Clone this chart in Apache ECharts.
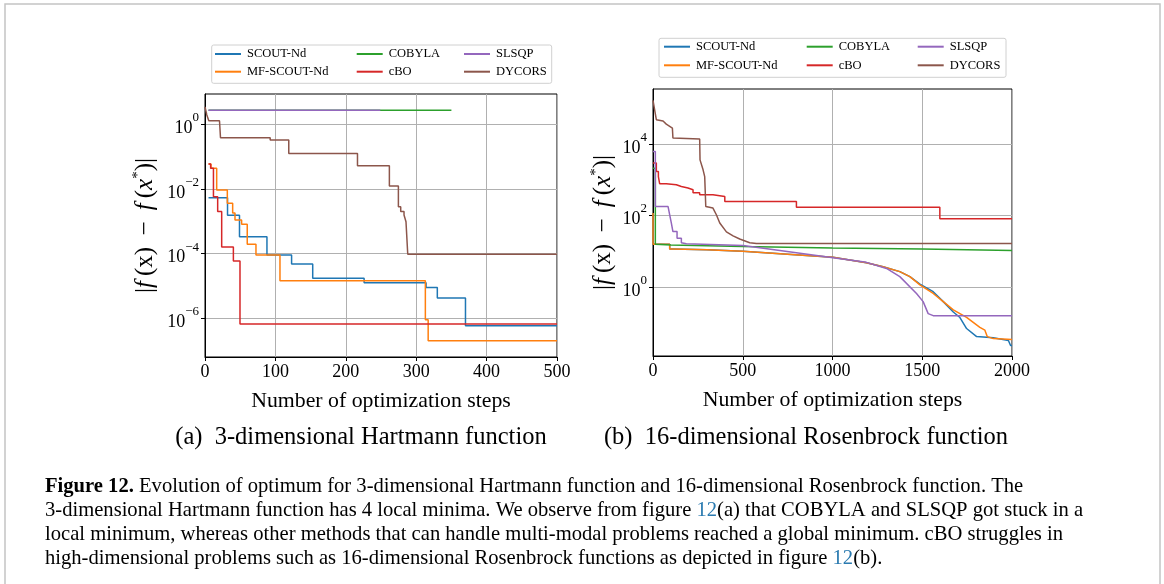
<!DOCTYPE html>
<html>
<head>
<meta charset="utf-8">
<script src="https://cdn.jsdelivr.net/npm/echarts@6/dist/echarts.min.js"></script>
<style>
  html, body { margin: 0; padding: 0; background: #ffffff; }
  #chart { width: 1164px; height: 584px; }
</style>
</head>
<body>
<div id="chart"></div>
<script>
// ---- methods and colours ----
const methods = ['SCOUT-Nd', 'MF-SCOUT-Nd', 'COBYLA', 'cBO', 'SLSQP', 'DYCORS'];
const colors = ['#1f77b4', '#ff7f0e', '#2ca02c', '#d62728', '#9467bd', '#8c564b'];

// ---- (a) 3-dimensional Hartmann: [step, |f(x) - f(x*)|], value held until next step ----
const hartScout = [[5, 5.4e-3], [32, 1.55e-3], [49, 3.3e-4], [88, 9.1e-5], [123, 4.8e-5], [153, 1.74e-5],
  [226, 1.26e-5], [314, 8.9e-6], [330, 4.2e-6], [370, 5.9e-7], [500, 5.9e-7]];
const hartMfScout = [[5, 5.9e-2], [8.5, 4.4e-2], [16.6, 9.3e-3], [31.7, 3.6e-3], [39.3, 1.8e-3], [42.6, 1.1e-3],
  [52, 8.1e-4], [60, 1.95e-4], [72.4, 9.1e-5], [106.5, 1.45e-5], [313, 8.9e-7], [317, 2.0e-7], [500, 2.0e-7]];
const hartCobyla = [[5, 2.76], [350, 2.76]];
const hartCbo = [[5, 5.9e-2], [8, 4.4e-2], [12, 5.8e-3], [18, 2.0e-3], [23.7, 1.6e-4], [40.3, 5.9e-5],
  [49.7, 6.6e-7], [500, 6.6e-7]];
const hartSlsqp = [[5, 2.76], [249, 2.76]];
const hartDycors = [[0, 3.5], [2.6, 1.95], [5.4, 1.29], [20.6, 1.2], [22, 0.385], [92.6, 0.327], [119, 0.126],
  [216.6, 0.052], [261.9, 0.0123], [274.7, 2.8e-3], [278, 2.0e-3], [282.7, 1.56e-3], [285.5, 9.7e-4],
  [288, 9.5e-5], [500, 9.5e-5]];

// ---- (b) 16-dimensional Rosenbrock: [step, |f(x) - f(x*)|] polyline vertices ----
const rosScout = [[0, 117], [0, 15.8], [93, 15.8], [93, 11.6], [112, 11.6], [300, 11.0], [500, 10.0], [750, 8.3],
  [1003, 6.8], [1189, 4.8], [1282, 3.7], [1375, 2.7], [1431, 1.95], [1487, 1.2], [1561, 0.74],
  [1617, 0.39], [1673, 0.20], [1710, 0.14], [1747, 0.069], [1803, 0.041], [1896, 0.038], [1980, 0.032],
  [1992, 0.023], [2000, 0.023]];
const rosMfScout = [[0, 117], [0, 15.8], [93, 15.8], [93, 11.6], [112, 11.6], [300, 11.0], [500, 10.0], [750, 8.3],
  [1003, 6.8], [1189, 4.8], [1282, 3.7], [1375, 2.7], [1431, 1.95], [1487, 1.15], [1561, 0.66],
  [1617, 0.39], [1673, 0.23], [1747, 0.141], [1821, 0.074], [1849, 0.062], [1862, 0.041], [1896, 0.036],
  [2000, 0.034]];
const rosCobyla = [[0, 2100], [13, 2100], [13, 15.8], [100, 15.1], [500, 13.5], [1000, 12.3], [1500, 11.5],
  [2000, 10.5]];
const rosCbo = [[0, 2950], [18.6, 2950], [18.6, 1700], [30, 1700], [30, 1230], [37, 1230], [37, 780], [74, 780],
  [74, 730], [130, 730], [130, 650], [158, 650], [158, 590], [195, 590], [195, 525], [223, 525], [223, 435],
  [260, 435], [260, 380], [334, 380], [334, 340], [400, 340], [400, 245], [799, 245], [799, 170],
  [1598, 170], [1598, 81], [2000, 81]];
const rosSlsqp = [[0, 6200], [13, 6200], [13, 178], [84, 178], [84, 160], [93, 160], [93, 105], [102, 105],
  [102, 62], [111, 62], [111, 35.5], [134, 35.5], [134, 23], [158, 23], [158, 17.4], [186, 16.2],
  [502, 14.5], [1003, 6.6], [1189, 4.9], [1301, 3.3], [1375, 1.95], [1468, 0.66], [1505, 0.39],
  [1533, 0.18], [1561, 0.158], [2000, 0.158]];
const rosDycors = [[0, 1.66e5], [18.6, 4.8e4], [56, 4.4e4], [74, 3.6e4], [108, 2.8e4], [111, 1.48e4],
  [260, 1.38e4], [262, 3.6e3], [279, 1.9e3], [288, 1.23e3], [294, 178], [334, 162], [353, 105], [372, 62],
  [409, 35], [446, 27], [483, 22], [539, 17.4], [576, 16.6], [2000, 16.4]];

// ---- axis tick values ----
const hartYExponents = [-6, -4, -2, 0];
const rosYExponents = [0, 2, 4];

const hartSets = [hartScout, hartMfScout, hartCobyla, hartCbo, hartSlsqp, hartDycors];
const rosSets = [rosScout, rosMfScout, rosCobyla, rosCbo, rosSlsqp, rosDycors];

const SERIF = '"Liberation Serif", "DejaVu Serif", serif';

// y axes are drawn in log10 space; exponents become 10^n labels
const toLog = pts => pts.map(p => [p[0], Math.log10(p[1])]);

function makeX(gridIndex, max, interval) {
  return {
    type: 'value', gridIndex, min: 0, max, interval,
    name: 'Number of optimization steps', nameLocation: 'middle', nameGap: 33,
    nameTextStyle: { fontFamily: SERIF, fontSize: 21.8, color: '#000' },
    axisLine: { show: true, onZero: false, lineStyle: { color: '#000', width: 1 } },
    axisTick: { show: true, length: 4, lineStyle: { color: '#000' } },
    axisLabel: { fontFamily: SERIF, fontSize: 18, color: '#000', margin: 6, formatter: v => String(v) },
    splitLine: { show: true, lineStyle: { color: '#b0b0b0', width: 1 } }
  };
}

// math-style axis title: italic f and x, thin spacing around the operators
const Y_TITLE = '|{i|f}\u2009(x)\u2009 − \u2009{i|f}\u2009({i|x}{s|*})|';

function makeY(gridIndex, min, max, exps, nameGap) {
  return {
    type: 'value', gridIndex, min, max,
    name: Y_TITLE, nameLocation: 'middle', nameGap, nameRotate: 90,
    nameTextStyle: {
      fontFamily: SERIF, fontSize: 25, color: '#000',
      rich: {
        i: { fontFamily: SERIF, fontStyle: 'italic', fontSize: 25 },
        s: { fontFamily: SERIF, fontSize: 15, verticalAlign: 'top', lineHeight: 28 }
      }
    },
    axisLine: { show: true, onZero: false, lineStyle: { color: '#000', width: 1 } },
    axisTick: { show: true, length: 4, lineStyle: { color: '#000' }, customValues: exps },
    axisLabel: {
      customValues: exps, margin: 6,
      formatter: v => '{b|10}{s|' + (v < 0 ? '−' + (-v) : v) + '}',
      rich: {
        b: { fontFamily: SERIF, fontSize: 18, color: '#000', lineHeight: 26, verticalAlign: 'bottom' },
        s: { fontFamily: SERIF, fontSize: 13, color: '#000', lineHeight: 26, verticalAlign: 'top' }
      }
    },
    splitLine: { show: true, lineStyle: { color: '#b0b0b0', width: 1 } }
  };
}

const series = [];
methods.forEach((m, k) => {
  series.push({
    name: m, type: 'line', xAxisIndex: 0, yAxisIndex: 0, step: 'end',
    data: toLog(hartSets[k]), showSymbol: false, symbol: 'none', animation: false,
    lineStyle: { color: colors[k], width: 1.5 }, itemStyle: { color: colors[k] }, z: 2 + k
  });
  series.push({
    name: m, type: 'line', xAxisIndex: 1, yAxisIndex: 1,
    data: toLog(rosSets[k]), showSymbol: false, symbol: 'none', animation: false,
    lineStyle: { color: colors[k], width: 1.5 }, itemStyle: { color: colors[k] }, z: 2 + k
  });
});

// legend: three columns of two entries per panel
function legendCol(names, left, top, gap) {
  return {
    data: names, orient: 'vertical', left, top, padding: 0, itemGap: gap,
    icon: 'rect', itemWidth: 26, itemHeight: 2, selectedMode: false,
    textStyle: { fontFamily: SERIF, fontSize: 12.5, color: '#000', lineHeight: 14, padding: [0, 0, 0, 1] }
  };
}
const colPairs = [[methods[0], methods[1]], [methods[2], methods[3]], [methods[4], methods[5]]];
const legends = [
  legendCol(colPairs[0], 215, 47, 3.7), legendCol(colPairs[1], 356.7, 47, 3.7), legendCol(colPairs[2], 464, 47, 3.7),
  legendCol(colPairs[0], 664, 39.7, 4.6), legendCol(colPairs[1], 806.7, 39.7, 4.6), legendCol(colPairs[2], 917.7, 39.7, 4.6)
];

const CAP = 20.6;
const capRich = {
  b: { fontFamily: SERIF, fontSize: CAP, fontWeight: 'bold', fill: '#000' },
  l: { fontFamily: SERIF, fontSize: CAP, fill: '#2a7ab0' }
};
function capLine(text, y) {
  return {
    type: 'text', x: 45, y, silent: true,
    style: { text, font: CAP + 'px ' + SERIF, fill: '#000', rich: capRich, verticalAlign: 'middle' }
  };
}

const graphic = [
  { type: 'rect', shape: { x: 5, y: 4, width: 1155, height: 620 }, style: { fill: 'none', stroke: '#c4c4c4', lineWidth: 1.5 }, silent: true },
  { type: 'rect', shape: { x: 211.7, y: 45, width: 340, height: 38.3, r: 2 }, style: { fill: '#fff', stroke: '#d0d0d0', lineWidth: 1 }, z: 0, silent: true },
  { type: 'rect', shape: { x: 659, y: 38.3, width: 347, height: 39, r: 2 }, style: { fill: '#fff', stroke: '#d0d0d0', lineWidth: 1 }, z: 0, silent: true },
  { type: 'text', x: 361, y: 438, silent: true,
    style: { text: '(a)  3-dimensional Hartmann function', font: '24.5px ' + SERIF, fill: '#000', align: 'center', verticalAlign: 'middle' } },
  { type: 'text', x: 806, y: 438, silent: true,
    style: { text: '(b)  16-dimensional Rosenbrock function', font: '24.5px ' + SERIF, fill: '#000', align: 'center', verticalAlign: 'middle' } },
  capLine('{b|Figure 12.} Evolution of optimum for 3-dimensional Hartmann function and 16-dimensional Rosenbrock function. The', 487),
  capLine('3-dimensional Hartmann function has 4 local minima. We observe from figure {l|12}(a) that COBYLA and SLSQP got stuck in a', 511),
  capLine('local minimum, whereas other methods that can handle multi-modal problems reached a global minimum. cBO struggles in', 535),
  capLine('high-dimensional problems such as 16-dimensional Rosenbrock functions as depicted in figure {l|12}(b).', 559)
];

const option = {
  backgroundColor: '#ffffff',
  animation: false,
  grid: [
    { left: 205, top: 94, width: 352, height: 263, show: true, borderColor: '#000', borderWidth: 1, backgroundColor: 'transparent' },
    { left: 653, top: 89, width: 359, height: 267, show: true, borderColor: '#000', borderWidth: 1, backgroundColor: 'transparent' }
  ],
  xAxis: [makeX(0, 500, 100), makeX(1, 2000, 500)],
  yAxis: [makeY(0, -7.2, 0.94, hartYExponents, 46), makeY(1, -1.93, 5.54, rosYExponents, 36)],
  legend: legends,
  graphic,
  series
};

const chart = echarts.init(document.getElementById('chart'), null, { renderer: 'canvas' });
chart.setOption(option);
</script>
</body>
</html>
